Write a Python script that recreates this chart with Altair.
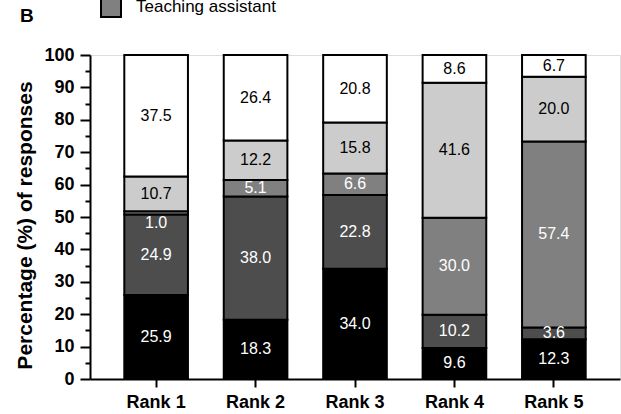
import altair as alt
import pandas as pd

ranks = ["Rank 1", "Rank 2", "Rank 3", "Rank 4", "Rank 5"]
categories = ["Group 1", "Group 2", "Teaching assistant", "Group 4", "Group 5"]
colors = ["#000000", "#4d4d4d", "#808080", "#cccccc", "#ffffff"]
label_colors = ["white", "white", "white", "black", "black"]

cat1 = [25.9, 18.3, 34.0, 9.6, 12.3]
cat2 = [24.9, 38.0, 22.8, 10.2, 3.6]
cat3 = [1.0, 5.1, 6.6, 30.0, 57.4]
cat4 = [10.7, 12.2, 15.8, 41.6, 20.0]
cat5 = [37.5, 26.4, 20.8, 8.6, 6.7]
series = [cat1, cat2, cat3, cat4, cat5]
panel_label = ["B"]
y_ticks = list(range(0, 101, 5))

rows = []
for i, r in enumerate(ranks):
    base = 0.0
    for k, c in enumerate(categories):
        v = series[k][i]
        y0, y1 = base, base + v
        mid = (y0 + y1) / 2
        if v < 2:
            mid = y0 - 2.6
        rows.append({"rank": r, "cat": c, "order": k, "value": v,
                     "y0": y0, "y1": y1, "ly": mid,
                     "lc": label_colors[k], "label": f"{v:.1f}"})
        base = y1
df = pd.DataFrame(rows)

FONT = "Liberation Sans"

x_axis = alt.Axis(labelFont=FONT, labelFontSize=18, labelFontWeight="bold",
                  labelColor="black", labelPadding=6, labelAngle=0,
                  domainColor="black", domainWidth=2, tickColor="black",
                  tickWidth=2, tickSize=8)
y_axis = alt.Axis(values=y_ticks,
                  labelExpr="datum.value % 10 == 0 ? datum.label : ''",
                  labelOverlap=False,
                  tickSize={"condition": {"test": "datum.value % 10 == 0", "value": 10}, "value": 5},
                  labelFont=FONT, labelFontSize=18, labelFontWeight="bold",
                  labelColor="black", labelPadding=6,
                  domainColor="black", domainWidth=2, tickColor="black",
                  tickWidth=2, grid=False,
                  titleFont=FONT, titleFontSize=21, titleFontWeight="bold",
                  titleColor="black", titlePadding=8, titleY=170)
x_scale = alt.Scale(paddingInner=0.36, paddingOuter=0.345)
y_scale = alt.Scale(domain=[0, 100], nice=False)
y_title = "Percentage (%) of responses"

bars = alt.Chart(df).mark_bar(stroke="black", strokeWidth=2).encode(
    x=alt.X("rank:N", sort=ranks, title=None, scale=x_scale, axis=x_axis),
    y=alt.Y("y0:Q", scale=y_scale, title=y_title, axis=y_axis),
    y2="y1:Q",
    color=alt.Color("cat:N", scale=alt.Scale(domain=categories, range=colors),
                    legend=alt.Legend(values=["Teaching assistant"], orient="none",
                                      legendX=10, legendY=-59, title=None,
                                      symbolType="square", symbolSize=400,
                                      symbolStrokeColor="black", symbolStrokeWidth=2,
                                      symbolOpacity=1,
                                      labelFont=FONT, labelFontSize=17,
                                      labelColor="black", labelOffset=14)),
    order=alt.Order("order:Q"),
)

labels = alt.Chart(df).mark_text(font=FONT, fontSize=16, baseline="middle").encode(
    x=alt.X("rank:N", sort=ranks, title=None, scale=x_scale, axis=x_axis),
    y=alt.Y("ly:Q", scale=y_scale, title=y_title, axis=y_axis),
    text="label:N",
    color=alt.Color("lc:N", scale=None),
)

panel = alt.Chart(pd.DataFrame({"t": panel_label})).mark_text(
    font=FONT, fontSize=19, fontWeight="bold", color="black",
    align="left", baseline="alphabetic").encode(
    x=alt.value(-70), y=alt.value(-33), text="t:N")

chart = alt.layer(bars, labels, panel).properties(
    width=530, height=324,
    autosize=alt.AutoSizeParams(type="none"),
    padding={"left": 90, "top": 55, "right": 1, "bottom": 35},
).configure_view(stroke=None).configure(background="white")

chart.save("out.html", embed_options={"renderer": "svg", "actions": False})
